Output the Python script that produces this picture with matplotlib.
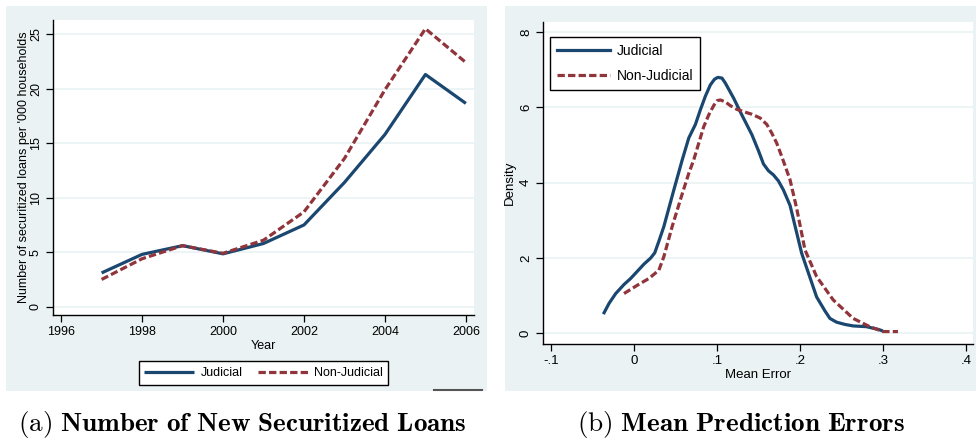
import matplotlib
matplotlib.use("Agg")
import matplotlib.pyplot as plt
from matplotlib.patches import Rectangle
from matplotlib.lines import Line2D

# ---------------- data ----------------
years = [1997, 1998, 1999, 2000, 2001, 2002, 2003, 2004, 2005, 2006]
loans_judicial = [3.1, 4.8, 5.6, 4.85, 5.8, 7.5, 11.4, 15.8, 21.3, 18.65]
loans_nonjudicial = [2.5, 4.4, 5.6, 4.9, 6.1, 8.7, 13.6, 19.9, 25.5, 22.4]

err_judicial_x = [-0.036, -0.030, -0.022, -0.012, -0.004, 0.004, 0.012, 0.020, 0.025,
                  0.030, 0.036, 0.048, 0.058, 0.066, 0.074, 0.080, 0.086,
                  0.092, 0.097, 0.101, 0.106, 0.110, 0.120, 0.130, 0.142, 0.150,
                  0.156, 0.162, 0.168, 0.174, 0.180, 0.188, 0.202, 0.220, 0.230,
                  0.236, 0.244, 0.254, 0.264, 0.280, 0.294, 0.298]
err_judicial_y = [0.55, 0.80, 1.06, 1.30, 1.46, 1.65, 1.84, 2.00, 2.14,
                  2.45, 2.84, 3.81, 4.60, 5.19, 5.55, 5.94, 6.30,
                  6.60, 6.75, 6.80, 6.78, 6.65, 6.25, 5.80, 5.28, 4.85,
                  4.50, 4.32, 4.21, 4.05, 3.81, 3.40, 2.13, 0.97, 0.60,
                  0.40, 0.30, 0.24, 0.20, 0.18, 0.11, 0.08]
err_nonjud_x = [-0.012, 0.004, 0.018, 0.030, 0.036, 0.046, 0.058, 0.066, 0.072, 0.084,
                0.090, 0.096, 0.100, 0.104, 0.110, 0.116, 0.124, 0.132, 0.142, 0.152,
                0.160, 0.166, 0.172, 0.178, 0.188, 0.196, 0.206, 0.220, 0.240, 0.264,
                0.284, 0.300, 0.318]
err_nonjud_y = [1.06, 1.28, 1.46, 1.68, 2.04, 2.84, 3.70, 4.25, 4.61, 5.49,
                5.80, 6.05, 6.18, 6.20, 6.15, 6.05, 5.95, 5.89, 5.82, 5.72,
                5.55, 5.32, 5.05, 4.70, 4.08, 3.32, 2.22, 1.51, 0.89, 0.40,
                0.18, 0.05, 0.05]

year_ticks = [1996, 1998, 2000, 2002, 2004, 2006]
loan_ticks = [0, 5, 10, 15, 20, 25]
err_ticks = [-0.1, 0, 0.1, 0.2, 0.3, 0.4]
err_tick_labels = ["-.1", "0", ".1", ".2", ".3", ".4"]
dens_ticks = [0, 2, 4, 6, 8]

NAVY = "#1A476F"
MAROON = "#90353B"
BG = "#EAF2F3"
GRID = "#EAF2F3"

plt.rcParams["mathtext.fontset"] = "cm"

W, H = 976, 440
fig = plt.figure(figsize=(W / 100, H / 100), dpi=100)
fig.patch.set_facecolor("white")

def fx(px):
    return px / W

def fy(py):
    return 1 - py / H

# grey panel backgrounds
fig.add_artist(Rectangle((fx(6), fy(391)), fx(481), 385 / H, transform=fig.transFigure,
                         facecolor=BG, edgecolor="none", zorder=0))
fig.add_artist(Rectangle((fx(505), fy(391)), fx(471), 385 / H, transform=fig.transFigure,
                         facecolor=BG, edgecolor="none", zorder=0))
# small artifact line under left panel
fig.add_artist(Line2D([fx(434), fx(482)], [fy(390), fy(390)], transform=fig.transFigure,
                      color="#555555", lw=1.5, zorder=1))

sans = ["Liberation Sans", "DejaVu Sans"]
narrow = ["Liberation Sans Narrow", "Liberation Sans", "DejaVu Sans"]

def style_axes(ax, fam, fs):
    ax.set_facecolor("white")
    for s in ["top", "right"]:
        ax.spines[s].set_visible(False)
    for s in ["left", "bottom"]:
        ax.spines[s].set_color("black")
        ax.spines[s].set_linewidth(1.0)
    ax.tick_params(direction="out", length=5, width=0.9, color="black",
                   labelsize=fs, pad=3)
    ax.tick_params(axis="y", labelrotation=90)
    for lab in ax.get_yticklabels():
        lab.set_va("center")
    for lab in ax.get_xticklabels() + ax.get_yticklabels():
        lab.set_family(fam)
    ax.yaxis.grid(True, color=GRID, lw=1.2)
    ax.set_axisbelow(True)

# ---------------- left panel ----------------
ax1 = fig.add_axes([fx(53), fy(315), fx(474 - 53), (315 - 20) / H])
ax1.plot(years, loans_judicial, color=NAVY, lw=2.3, solid_capstyle="butt", label="Judicial")
ax1.plot(years, loans_nonjudicial, color=MAROON, lw=2.3, dashes=(2.3, 1.0), label="Non-Judicial")
ax1.set_xlim(1995.8, 2006.2)
ax1.set_ylim(-0.76, 26.3)
ax1.set_xticks(year_ticks)
ax1.set_yticks(loan_ticks)
style_axes(ax1, sans, 9)
ax1.set_xlabel("Year", family=sans, fontsize=9, labelpad=1)
ax1.set_ylabel("Number of securitized loans per '000 households", family=sans, fontsize=9,
               labelpad=0)

h, l = ax1.get_legend_handles_labels()
leg1 = fig.legend(h, l, loc="center", bbox_to_anchor=(fx(263.5), fy(373)), ncol=2,
                  frameon=True, fancybox=False, edgecolor="black", framealpha=1,
                  prop={"family": sans, "size": 9}, handlelength=4.0, columnspacing=1.2,
                  handletextpad=0.5, borderpad=0.45, borderaxespad=0)
leg1.get_frame().set_linewidth(1.0)

# ---------------- right panel ----------------
ax2 = fig.add_axes([fx(543), fy(344), fx(973 - 543), (344 - 22) / H])
ax2.plot(err_judicial_x, err_judicial_y, color=NAVY, lw=2.3, label="Judicial")
ax2.plot(err_nonjud_x, err_nonjud_y, color=MAROON, lw=2.3, dashes=(2.3, 1.0), label="Non-Judicial")
ax2.set_xlim(-0.1096, 0.4084)
ax2.set_ylim(-0.28, 8.27)
ax2.set_xticks(err_ticks)
ax2.set_xticklabels(err_tick_labels)
ax2.set_yticks(dens_ticks)
style_axes(ax2, narrow, 9.5)
ax2.set_xlabel("Mean Error", family=narrow, fontsize=9.5, labelpad=1)
ax2.set_ylabel("Density", family=narrow, fontsize=9.5, labelpad=3)
leg2 = ax2.legend(loc="upper left", bbox_to_anchor=(0.016, 0.953), frameon=True,
                  fancybox=False, edgecolor="black", framealpha=1,
                  prop={"family": narrow, "size": 10}, handlelength=3.8,
                  handletextpad=0.5, borderpad=0.5, labelspacing=0.8, borderaxespad=0)
leg2.get_frame().set_linewidth(1.0)

# ---------------- captions ----------------
fig.text(fx(242), fy(431), r"$\mathrm{(a)}\ \mathbf{Number\ of\ New\ Securitized\ Loans}$",
         ha="center", va="baseline", fontsize=19.5)
fig.text(fx(741), fy(431), r"$\mathrm{(b)}\ \mathbf{Mean\ Prediction\ Errors}$",
         ha="center", va="baseline", fontsize=19.5)

fig.savefig("out.png", dpi=100)
